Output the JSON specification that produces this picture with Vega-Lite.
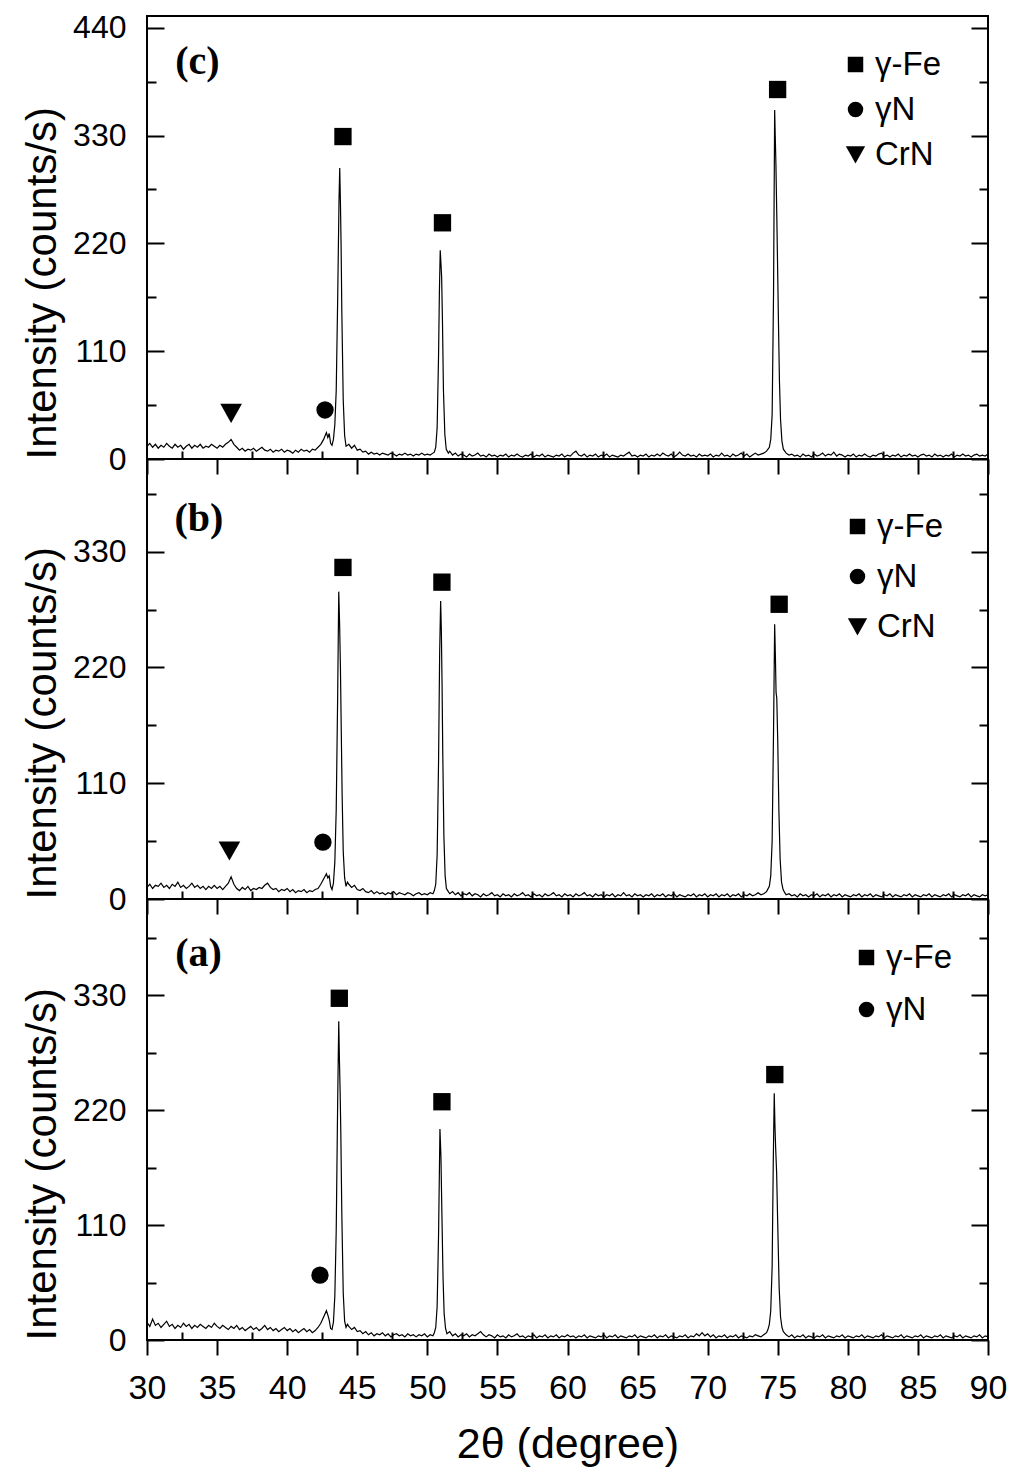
{
"$schema": "https://vega.github.io/schema/vega-lite/v6.json",
"padding": {"left": 20, "top": 10, "right": 10, "bottom": 5},
"spacing": 0,
"bounds": "flush",
"config": {
  "view": {"stroke": "black", "strokeWidth": 2},
  "font": "Liberation Sans",
  "axis": {"domain": false, "grid": false, "tickColor": "black", "tickWidth": 2, "labelColor": "black", "titleColor": "black", "labelFont": "Liberation Sans", "titleFont": "Liberation Sans", "titleFontWeight": "normal"}
},
"resolve": {"scale": {"x": "independent", "y": "independent", "shape": "independent"}, "legend": {"shape": "independent"}},
"datasets": {
"c": [{"x":30.0,"y":13},{"x":30.2,"y":16},{"x":30.4,"y":12},{"x":30.6,"y":15},{"x":30.8,"y":11},{"x":31.0,"y":14},{"x":31.2,"y":12},{"x":31.4,"y":16},{"x":31.6,"y":13},{"x":31.8,"y":11},{"x":32.0,"y":15},{"x":32.2,"y":12},{"x":32.4,"y":14},{"x":32.6,"y":10},{"x":32.8,"y":13},{"x":33.0,"y":15},{"x":33.2,"y":11},{"x":33.4,"y":14},{"x":33.6,"y":12},{"x":33.8,"y":15},{"x":34.0,"y":11},{"x":34.2,"y":13},{"x":34.4,"y":12},{"x":34.6,"y":15},{"x":34.8,"y":13},{"x":35.0,"y":11},{"x":35.2,"y":14},{"x":35.4,"y":12},{"x":35.6,"y":15},{"x":35.8,"y":17},{"x":36.0,"y":20},{"x":36.2,"y":15},{"x":36.4,"y":12},{"x":36.6,"y":9},{"x":36.8,"y":11},{"x":37.0,"y":8},{"x":37.2,"y":10},{"x":37.4,"y":9},{"x":37.6,"y":11},{"x":37.8,"y":8},{"x":38.0,"y":10},{"x":38.2,"y":12},{"x":38.4,"y":9},{"x":38.6,"y":8},{"x":38.8,"y":10},{"x":39.0,"y":7},{"x":39.2,"y":9},{"x":39.4,"y":8},{"x":39.6,"y":10},{"x":39.8,"y":7},{"x":40.0,"y":9},{"x":40.2,"y":8},{"x":40.4,"y":6},{"x":40.6,"y":9},{"x":40.8,"y":7},{"x":41.0,"y":10},{"x":41.2,"y":8},{"x":41.4,"y":9},{"x":41.6,"y":7},{"x":41.8,"y":10},{"x":42.0,"y":9},{"x":42.2,"y":12},{"x":42.4,"y":15},{"x":42.6,"y":20},{"x":42.8,"y":27},{"x":42.9,"y":22},{"x":43.0,"y":26},{"x":43.1,"y":16},{"x":43.2,"y":14},{"x":43.3,"y":20},{"x":43.4,"y":35},{"x":43.5,"y":70},{"x":43.6,"y":160},{"x":43.7,"y":265},{"x":43.75,"y":297},{"x":43.8,"y":262},{"x":43.85,"y":215},{"x":43.9,"y":150},{"x":44.0,"y":60},{"x":44.1,"y":24},{"x":44.2,"y":13},{"x":44.4,"y":15},{"x":44.6,"y":11},{"x":44.8,"y":14},{"x":45.0,"y":9},{"x":45.2,"y":10},{"x":45.4,"y":7},{"x":45.6,"y":8},{"x":45.8,"y":5},{"x":46.0,"y":7},{"x":46.2,"y":5},{"x":46.4,"y":6},{"x":46.6,"y":4},{"x":46.8,"y":6},{"x":47.0,"y":5},{"x":47.2,"y":4},{"x":47.4,"y":6},{"x":47.6,"y":5},{"x":47.8,"y":3},{"x":48.0,"y":5},{"x":48.2,"y":4},{"x":48.4,"y":6},{"x":48.6,"y":4},{"x":48.8,"y":5},{"x":49.0,"y":3},{"x":49.2,"y":5},{"x":49.4,"y":4},{"x":49.6,"y":6},{"x":49.8,"y":4},{"x":50.0,"y":5},{"x":50.2,"y":4},{"x":50.4,"y":6},{"x":50.5,"y":7},{"x":50.6,"y":12},{"x":50.7,"y":32},{"x":50.8,"y":105},{"x":50.86,"y":170},{"x":50.92,"y":213},{"x":50.97,"y":200},{"x":51.02,"y":186},{"x":51.08,"y":140},{"x":51.15,"y":70},{"x":51.25,"y":25},{"x":51.35,"y":10},{"x":51.5,"y":6},{"x":51.6,"y":8},{"x":51.8,"y":4},{"x":52.0,"y":6},{"x":52.2,"y":3},{"x":52.4,"y":5},{"x":52.6,"y":4},{"x":52.8,"y":2},{"x":53.0,"y":5},{"x":53.2,"y":3},{"x":53.4,"y":4},{"x":53.6,"y":6},{"x":53.8,"y":3},{"x":54.0,"y":4},{"x":54.2,"y":2},{"x":54.4,"y":5},{"x":54.6,"y":3},{"x":54.8,"y":4},{"x":55.0,"y":2},{"x":55.2,"y":4},{"x":55.4,"y":3},{"x":55.6,"y":5},{"x":55.8,"y":2},{"x":56.0,"y":4},{"x":56.2,"y":3},{"x":56.4,"y":5},{"x":56.6,"y":3},{"x":56.8,"y":2},{"x":57.0,"y":4},{"x":57.2,"y":3},{"x":57.4,"y":5},{"x":57.6,"y":2},{"x":57.8,"y":4},{"x":58.0,"y":3},{"x":58.2,"y":5},{"x":58.4,"y":2},{"x":58.6,"y":4},{"x":58.8,"y":3},{"x":59.0,"y":2},{"x":59.2,"y":4},{"x":59.4,"y":3},{"x":59.6,"y":5},{"x":59.8,"y":2},{"x":60.0,"y":4},{"x":60.2,"y":3},{"x":60.4,"y":6},{"x":60.6,"y":8},{"x":60.8,"y":4},{"x":61.0,"y":3},{"x":61.2,"y":5},{"x":61.4,"y":2},{"x":61.6,"y":4},{"x":61.8,"y":3},{"x":62.0,"y":5},{"x":62.2,"y":2},{"x":62.4,"y":4},{"x":62.6,"y":3},{"x":62.8,"y":5},{"x":63.0,"y":2},{"x":63.2,"y":4},{"x":63.4,"y":3},{"x":63.6,"y":2},{"x":63.8,"y":4},{"x":64.0,"y":3},{"x":64.2,"y":5},{"x":64.4,"y":7},{"x":64.6,"y":3},{"x":64.8,"y":4},{"x":65.0,"y":2},{"x":65.2,"y":4},{"x":65.4,"y":3},{"x":65.6,"y":5},{"x":65.8,"y":2},{"x":66.0,"y":4},{"x":66.2,"y":3},{"x":66.4,"y":5},{"x":66.6,"y":3},{"x":66.8,"y":6},{"x":67.0,"y":4},{"x":67.2,"y":3},{"x":67.4,"y":5},{"x":67.6,"y":2},{"x":67.8,"y":4},{"x":68.0,"y":7},{"x":68.2,"y":4},{"x":68.4,"y":3},{"x":68.6,"y":5},{"x":68.8,"y":3},{"x":69.0,"y":4},{"x":69.2,"y":2},{"x":69.4,"y":5},{"x":69.6,"y":3},{"x":69.8,"y":4},{"x":70.0,"y":3},{"x":70.2,"y":5},{"x":70.4,"y":2},{"x":70.6,"y":4},{"x":70.8,"y":3},{"x":71.0,"y":6},{"x":71.2,"y":3},{"x":71.4,"y":4},{"x":71.6,"y":2},{"x":71.8,"y":5},{"x":72.0,"y":3},{"x":72.2,"y":4},{"x":72.4,"y":6},{"x":72.6,"y":3},{"x":72.8,"y":5},{"x":73.0,"y":2},{"x":73.2,"y":4},{"x":73.4,"y":6},{"x":73.6,"y":4},{"x":73.8,"y":5},{"x":74.0,"y":6},{"x":74.2,"y":8},{"x":74.4,"y":12},{"x":74.5,"y":20},{"x":74.6,"y":45},{"x":74.7,"y":170},{"x":74.78,"y":356},{"x":74.82,"y":330},{"x":74.87,"y":300},{"x":74.93,"y":250},{"x":74.98,"y":205},{"x":75.05,"y":140},{"x":75.12,"y":80},{"x":75.2,"y":40},{"x":75.3,"y":18},{"x":75.4,"y":10},{"x":75.5,"y":8},{"x":75.6,"y":6},{"x":75.8,"y":4},{"x":76.0,"y":5},{"x":76.2,"y":3},{"x":76.4,"y":4},{"x":76.6,"y":2},{"x":76.8,"y":5},{"x":77.0,"y":3},{"x":77.2,"y":4},{"x":77.4,"y":2},{"x":77.6,"y":5},{"x":77.8,"y":3},{"x":78.0,"y":4},{"x":78.2,"y":6},{"x":78.4,"y":3},{"x":78.6,"y":5},{"x":78.8,"y":4},{"x":79.0,"y":7},{"x":79.2,"y":3},{"x":79.4,"y":5},{"x":79.6,"y":4},{"x":79.8,"y":2},{"x":80.0,"y":4},{"x":80.2,"y":3},{"x":80.4,"y":5},{"x":80.6,"y":2},{"x":80.8,"y":4},{"x":81.0,"y":3},{"x":81.2,"y":5},{"x":81.4,"y":3},{"x":81.6,"y":2},{"x":81.8,"y":4},{"x":82.0,"y":3},{"x":82.2,"y":5},{"x":82.4,"y":6},{"x":82.6,"y":3},{"x":82.8,"y":4},{"x":83.0,"y":2},{"x":83.2,"y":4},{"x":83.4,"y":3},{"x":83.6,"y":5},{"x":83.8,"y":2},{"x":84.0,"y":4},{"x":84.2,"y":3},{"x":84.4,"y":5},{"x":84.6,"y":3},{"x":84.8,"y":4},{"x":85.0,"y":2},{"x":85.2,"y":4},{"x":85.4,"y":5},{"x":85.6,"y":3},{"x":85.8,"y":4},{"x":86.0,"y":2},{"x":86.2,"y":5},{"x":86.4,"y":3},{"x":86.6,"y":4},{"x":86.8,"y":2},{"x":87.0,"y":4},{"x":87.2,"y":3},{"x":87.4,"y":5},{"x":87.6,"y":2},{"x":87.8,"y":4},{"x":88.0,"y":3},{"x":88.2,"y":5},{"x":88.4,"y":3},{"x":88.6,"y":4},{"x":88.8,"y":2},{"x":89.0,"y":4},{"x":89.2,"y":5},{"x":89.4,"y":3},{"x":89.6,"y":4},{"x":89.8,"y":3},{"x":90.0,"y":5}],
"b": [{"x":30.0,"y":11},{"x":30.2,"y":14},{"x":30.4,"y":10},{"x":30.6,"y":13},{"x":30.8,"y":12},{"x":31.0,"y":15},{"x":31.2,"y":11},{"x":31.4,"y":13},{"x":31.6,"y":10},{"x":31.8,"y":14},{"x":32.0,"y":12},{"x":32.2,"y":16},{"x":32.4,"y":11},{"x":32.6,"y":13},{"x":32.8,"y":10},{"x":33.0,"y":12},{"x":33.2,"y":15},{"x":33.4,"y":11},{"x":33.6,"y":13},{"x":33.8,"y":10},{"x":34.0,"y":12},{"x":34.2,"y":9},{"x":34.4,"y":12},{"x":34.6,"y":10},{"x":34.8,"y":13},{"x":35.0,"y":10},{"x":35.2,"y":12},{"x":35.4,"y":9},{"x":35.6,"y":12},{"x":35.8,"y":15},{"x":36.0,"y":21},{"x":36.2,"y":14},{"x":36.4,"y":10},{"x":36.6,"y":8},{"x":36.8,"y":11},{"x":37.0,"y":9},{"x":37.2,"y":12},{"x":37.4,"y":8},{"x":37.6,"y":10},{"x":37.8,"y":9},{"x":38.0,"y":11},{"x":38.2,"y":10},{"x":38.4,"y":13},{"x":38.6,"y":15},{"x":38.8,"y":11},{"x":39.0,"y":9},{"x":39.2,"y":10},{"x":39.4,"y":7},{"x":39.6,"y":9},{"x":39.8,"y":8},{"x":40.0,"y":10},{"x":40.2,"y":7},{"x":40.4,"y":9},{"x":40.6,"y":6},{"x":40.8,"y":8},{"x":41.0,"y":7},{"x":41.2,"y":9},{"x":41.4,"y":6},{"x":41.6,"y":8},{"x":41.8,"y":7},{"x":42.0,"y":9},{"x":42.2,"y":10},{"x":42.4,"y":14},{"x":42.6,"y":19},{"x":42.8,"y":24},{"x":42.9,"y":20},{"x":43.0,"y":22},{"x":43.1,"y":12},{"x":43.2,"y":9},{"x":43.3,"y":15},{"x":43.4,"y":35},{"x":43.5,"y":85},{"x":43.6,"y":190},{"x":43.68,"y":292},{"x":43.74,"y":262},{"x":43.8,"y":220},{"x":43.86,"y":160},{"x":43.92,"y":100},{"x":44.0,"y":45},{"x":44.1,"y":20},{"x":44.2,"y":12},{"x":44.3,"y":16},{"x":44.4,"y":14},{"x":44.6,"y":11},{"x":44.8,"y":13},{"x":45.0,"y":9},{"x":45.2,"y":8},{"x":45.4,"y":10},{"x":45.6,"y":7},{"x":45.8,"y":6},{"x":46.0,"y":8},{"x":46.2,"y":5},{"x":46.4,"y":7},{"x":46.6,"y":5},{"x":46.8,"y":6},{"x":47.0,"y":4},{"x":47.2,"y":6},{"x":47.4,"y":5},{"x":47.6,"y":7},{"x":47.8,"y":4},{"x":48.0,"y":6},{"x":48.2,"y":5},{"x":48.4,"y":4},{"x":48.6,"y":6},{"x":48.8,"y":5},{"x":49.0,"y":3},{"x":49.2,"y":5},{"x":49.4,"y":6},{"x":49.6,"y":4},{"x":49.8,"y":5},{"x":50.0,"y":4},{"x":50.2,"y":6},{"x":50.4,"y":5},{"x":50.5,"y":8},{"x":50.6,"y":14},{"x":50.7,"y":42},{"x":50.8,"y":130},{"x":50.88,"y":235},{"x":50.95,"y":283},{"x":51.0,"y":255},{"x":51.05,"y":205},{"x":51.1,"y":140},{"x":51.18,"y":60},{"x":51.27,"y":22},{"x":51.36,"y":10},{"x":51.5,"y":7},{"x":51.6,"y":5},{"x":51.8,"y":7},{"x":52.0,"y":4},{"x":52.2,"y":6},{"x":52.4,"y":3},{"x":52.6,"y":5},{"x":52.8,"y":4},{"x":53.0,"y":6},{"x":53.2,"y":3},{"x":53.4,"y":5},{"x":53.6,"y":4},{"x":53.8,"y":2},{"x":54.0,"y":5},{"x":54.2,"y":3},{"x":54.4,"y":4},{"x":54.6,"y":6},{"x":54.8,"y":3},{"x":55.0,"y":4},{"x":55.2,"y":2},{"x":55.4,"y":5},{"x":55.6,"y":3},{"x":55.8,"y":4},{"x":56.0,"y":2},{"x":56.2,"y":5},{"x":56.4,"y":3},{"x":56.6,"y":4},{"x":56.8,"y":6},{"x":57.0,"y":3},{"x":57.2,"y":4},{"x":57.4,"y":2},{"x":57.6,"y":5},{"x":57.8,"y":3},{"x":58.0,"y":4},{"x":58.2,"y":2},{"x":58.4,"y":5},{"x":58.6,"y":3},{"x":58.8,"y":4},{"x":59.0,"y":6},{"x":59.2,"y":3},{"x":59.4,"y":4},{"x":59.6,"y":2},{"x":59.8,"y":5},{"x":60.0,"y":3},{"x":60.2,"y":4},{"x":60.4,"y":2},{"x":60.6,"y":5},{"x":60.8,"y":3},{"x":61.0,"y":4},{"x":61.2,"y":6},{"x":61.4,"y":3},{"x":61.6,"y":4},{"x":61.8,"y":2},{"x":62.0,"y":5},{"x":62.2,"y":3},{"x":62.4,"y":4},{"x":62.6,"y":2},{"x":62.8,"y":4},{"x":63.0,"y":3},{"x":63.2,"y":5},{"x":63.4,"y":2},{"x":63.6,"y":4},{"x":63.8,"y":3},{"x":64.0,"y":6},{"x":64.2,"y":3},{"x":64.4,"y":4},{"x":64.6,"y":2},{"x":64.8,"y":5},{"x":65.0,"y":3},{"x":65.2,"y":4},{"x":65.4,"y":2},{"x":65.6,"y":4},{"x":65.8,"y":3},{"x":66.0,"y":5},{"x":66.2,"y":2},{"x":66.4,"y":4},{"x":66.6,"y":3},{"x":66.8,"y":5},{"x":67.0,"y":2},{"x":67.2,"y":4},{"x":67.4,"y":3},{"x":67.6,"y":5},{"x":67.8,"y":2},{"x":68.0,"y":4},{"x":68.2,"y":3},{"x":68.4,"y":2},{"x":68.6,"y":4},{"x":68.8,"y":3},{"x":69.0,"y":5},{"x":69.2,"y":2},{"x":69.4,"y":4},{"x":69.6,"y":3},{"x":69.8,"y":5},{"x":70.0,"y":2},{"x":70.2,"y":4},{"x":70.4,"y":3},{"x":70.6,"y":5},{"x":70.8,"y":2},{"x":71.0,"y":4},{"x":71.2,"y":3},{"x":71.4,"y":5},{"x":71.6,"y":2},{"x":71.8,"y":4},{"x":72.0,"y":3},{"x":72.2,"y":5},{"x":72.4,"y":2},{"x":72.6,"y":4},{"x":72.8,"y":3},{"x":73.0,"y":5},{"x":73.2,"y":3},{"x":73.4,"y":4},{"x":73.6,"y":6},{"x":73.8,"y":4},{"x":74.0,"y":5},{"x":74.2,"y":7},{"x":74.4,"y":12},{"x":74.5,"y":22},{"x":74.6,"y":55},{"x":74.7,"y":160},{"x":74.78,"y":261},{"x":74.83,"y":232},{"x":74.88,"y":196},{"x":74.93,"y":191},{"x":75.0,"y":150},{"x":75.08,"y":85},{"x":75.17,"y":38},{"x":75.27,"y":16},{"x":75.38,"y":9},{"x":75.5,"y":6},{"x":75.6,"y":4},{"x":75.8,"y":5},{"x":76.0,"y":3},{"x":76.2,"y":4},{"x":76.4,"y":2},{"x":76.6,"y":5},{"x":76.8,"y":3},{"x":77.0,"y":4},{"x":77.2,"y":2},{"x":77.4,"y":4},{"x":77.6,"y":3},{"x":77.8,"y":5},{"x":78.0,"y":2},{"x":78.2,"y":4},{"x":78.4,"y":3},{"x":78.6,"y":5},{"x":78.8,"y":2},{"x":79.0,"y":4},{"x":79.2,"y":3},{"x":79.4,"y":5},{"x":79.6,"y":2},{"x":79.8,"y":4},{"x":80.0,"y":3},{"x":80.2,"y":2},{"x":80.4,"y":4},{"x":80.6,"y":3},{"x":80.8,"y":5},{"x":81.0,"y":2},{"x":81.2,"y":4},{"x":81.4,"y":3},{"x":81.6,"y":5},{"x":81.8,"y":2},{"x":82.0,"y":4},{"x":82.2,"y":3},{"x":82.4,"y":2},{"x":82.6,"y":4},{"x":82.8,"y":3},{"x":83.0,"y":5},{"x":83.2,"y":2},{"x":83.4,"y":4},{"x":83.6,"y":3},{"x":83.8,"y":2},{"x":84.0,"y":4},{"x":84.2,"y":3},{"x":84.4,"y":5},{"x":84.6,"y":2},{"x":84.8,"y":4},{"x":85.0,"y":3},{"x":85.2,"y":2},{"x":85.4,"y":4},{"x":85.6,"y":3},{"x":85.8,"y":5},{"x":86.0,"y":2},{"x":86.2,"y":4},{"x":86.4,"y":3},{"x":86.6,"y":2},{"x":86.8,"y":4},{"x":87.0,"y":3},{"x":87.2,"y":5},{"x":87.4,"y":2},{"x":87.6,"y":4},{"x":87.8,"y":3},{"x":88.0,"y":2},{"x":88.2,"y":4},{"x":88.4,"y":3},{"x":88.6,"y":5},{"x":88.8,"y":2},{"x":89.0,"y":4},{"x":89.2,"y":3},{"x":89.4,"y":2},{"x":89.6,"y":4},{"x":89.8,"y":3},{"x":90.0,"y":4}],
"a": [{"x":30.0,"y":17},{"x":30.2,"y":13},{"x":30.4,"y":20},{"x":30.6,"y":14},{"x":30.8,"y":16},{"x":31.0,"y":12},{"x":31.2,"y":15},{"x":31.4,"y":18},{"x":31.6,"y":13},{"x":31.8,"y":15},{"x":32.0,"y":11},{"x":32.2,"y":14},{"x":32.4,"y":12},{"x":32.6,"y":16},{"x":32.8,"y":13},{"x":33.0,"y":15},{"x":33.2,"y":11},{"x":33.4,"y":14},{"x":33.6,"y":12},{"x":33.8,"y":15},{"x":34.0,"y":13},{"x":34.2,"y":11},{"x":34.4,"y":14},{"x":34.6,"y":12},{"x":34.8,"y":16},{"x":35.0,"y":13},{"x":35.2,"y":11},{"x":35.4,"y":14},{"x":35.6,"y":12},{"x":35.8,"y":10},{"x":36.0,"y":13},{"x":36.2,"y":11},{"x":36.4,"y":14},{"x":36.6,"y":10},{"x":36.8,"y":12},{"x":37.0,"y":9},{"x":37.2,"y":11},{"x":37.4,"y":13},{"x":37.6,"y":10},{"x":37.8,"y":12},{"x":38.0,"y":9},{"x":38.2,"y":11},{"x":38.4,"y":14},{"x":38.6,"y":10},{"x":38.8,"y":12},{"x":39.0,"y":9},{"x":39.2,"y":11},{"x":39.4,"y":8},{"x":39.6,"y":10},{"x":39.8,"y":12},{"x":40.0,"y":9},{"x":40.2,"y":11},{"x":40.4,"y":8},{"x":40.6,"y":10},{"x":40.8,"y":7},{"x":41.0,"y":9},{"x":41.2,"y":11},{"x":41.4,"y":8},{"x":41.6,"y":10},{"x":41.8,"y":7},{"x":42.0,"y":9},{"x":42.2,"y":12},{"x":42.4,"y":16},{"x":42.6,"y":22},{"x":42.8,"y":28},{"x":42.9,"y":24},{"x":43.0,"y":19},{"x":43.1,"y":11},{"x":43.2,"y":10},{"x":43.3,"y":17},{"x":43.4,"y":42},{"x":43.5,"y":105},{"x":43.6,"y":225},{"x":43.68,"y":305},{"x":43.73,"y":267},{"x":43.78,"y":237},{"x":43.83,"y":196},{"x":43.9,"y":120},{"x":44.0,"y":45},{"x":44.1,"y":18},{"x":44.2,"y":12},{"x":44.3,"y":15},{"x":44.4,"y":13},{"x":44.6,"y":10},{"x":44.8,"y":12},{"x":45.0,"y":8},{"x":45.2,"y":9},{"x":45.4,"y":6},{"x":45.6,"y":8},{"x":45.8,"y":5},{"x":46.0,"y":7},{"x":46.2,"y":4},{"x":46.4,"y":6},{"x":46.6,"y":5},{"x":46.8,"y":7},{"x":47.0,"y":4},{"x":47.2,"y":6},{"x":47.4,"y":3},{"x":47.6,"y":5},{"x":47.8,"y":6},{"x":48.0,"y":4},{"x":48.2,"y":5},{"x":48.4,"y":3},{"x":48.6,"y":6},{"x":48.8,"y":4},{"x":49.0,"y":5},{"x":49.2,"y":3},{"x":49.4,"y":5},{"x":49.6,"y":4},{"x":49.8,"y":6},{"x":50.0,"y":3},{"x":50.2,"y":5},{"x":50.4,"y":4},{"x":50.5,"y":7},{"x":50.6,"y":12},{"x":50.7,"y":32},{"x":50.8,"y":100},{"x":50.9,"y":202},{"x":50.97,"y":176},{"x":51.04,"y":120},{"x":51.12,"y":60},{"x":51.2,"y":25},{"x":51.3,"y":11},{"x":51.4,"y":6},{"x":51.6,"y":8},{"x":51.8,"y":4},{"x":52.0,"y":6},{"x":52.2,"y":3},{"x":52.4,"y":5},{"x":52.6,"y":4},{"x":52.8,"y":6},{"x":53.0,"y":3},{"x":53.2,"y":5},{"x":53.4,"y":4},{"x":53.6,"y":6},{"x":53.8,"y":8},{"x":54.0,"y":5},{"x":54.2,"y":3},{"x":54.4,"y":5},{"x":54.6,"y":4},{"x":54.8,"y":2},{"x":55.0,"y":5},{"x":55.2,"y":3},{"x":55.4,"y":4},{"x":55.6,"y":2},{"x":55.8,"y":5},{"x":56.0,"y":3},{"x":56.2,"y":4},{"x":56.4,"y":6},{"x":56.6,"y":3},{"x":56.8,"y":4},{"x":57.0,"y":2},{"x":57.2,"y":4},{"x":57.4,"y":3},{"x":57.6,"y":5},{"x":57.8,"y":2},{"x":58.0,"y":4},{"x":58.2,"y":3},{"x":58.4,"y":5},{"x":58.6,"y":2},{"x":58.8,"y":4},{"x":59.0,"y":3},{"x":59.2,"y":5},{"x":59.4,"y":2},{"x":59.6,"y":4},{"x":59.8,"y":3},{"x":60.0,"y":5},{"x":60.2,"y":3},{"x":60.4,"y":4},{"x":60.6,"y":2},{"x":60.8,"y":4},{"x":61.0,"y":3},{"x":61.2,"y":5},{"x":61.4,"y":2},{"x":61.6,"y":4},{"x":61.8,"y":3},{"x":62.0,"y":2},{"x":62.2,"y":4},{"x":62.4,"y":3},{"x":62.6,"y":5},{"x":62.8,"y":2},{"x":63.0,"y":4},{"x":63.2,"y":3},{"x":63.4,"y":5},{"x":63.6,"y":2},{"x":63.8,"y":4},{"x":64.0,"y":3},{"x":64.2,"y":2},{"x":64.4,"y":4},{"x":64.6,"y":3},{"x":64.8,"y":5},{"x":65.0,"y":2},{"x":65.2,"y":4},{"x":65.4,"y":3},{"x":65.6,"y":2},{"x":65.8,"y":4},{"x":66.0,"y":3},{"x":66.2,"y":5},{"x":66.4,"y":2},{"x":66.6,"y":4},{"x":66.8,"y":3},{"x":67.0,"y":5},{"x":67.2,"y":2},{"x":67.4,"y":4},{"x":67.6,"y":3},{"x":67.8,"y":2},{"x":68.0,"y":4},{"x":68.2,"y":3},{"x":68.4,"y":5},{"x":68.6,"y":2},{"x":68.8,"y":4},{"x":69.0,"y":3},{"x":69.2,"y":6},{"x":69.4,"y":4},{"x":69.6,"y":7},{"x":69.8,"y":4},{"x":70.0,"y":6},{"x":70.2,"y":3},{"x":70.4,"y":5},{"x":70.6,"y":2},{"x":70.8,"y":4},{"x":71.0,"y":3},{"x":71.2,"y":5},{"x":71.4,"y":2},{"x":71.6,"y":4},{"x":71.8,"y":3},{"x":72.0,"y":5},{"x":72.2,"y":2},{"x":72.4,"y":4},{"x":72.6,"y":3},{"x":72.8,"y":2},{"x":73.0,"y":4},{"x":73.2,"y":3},{"x":73.4,"y":5},{"x":73.6,"y":4},{"x":73.8,"y":3},{"x":74.0,"y":5},{"x":74.2,"y":7},{"x":74.3,"y":10},{"x":74.4,"y":15},{"x":74.5,"y":28},{"x":74.6,"y":70},{"x":74.68,"y":170},{"x":74.75,"y":236},{"x":74.8,"y":205},{"x":74.85,"y":184},{"x":74.92,"y":160},{"x":75.0,"y":110},{"x":75.1,"y":50},{"x":75.2,"y":22},{"x":75.3,"y":12},{"x":75.4,"y":8},{"x":75.6,"y":5},{"x":75.8,"y":3},{"x":76.0,"y":5},{"x":76.2,"y":2},{"x":76.4,"y":4},{"x":76.6,"y":3},{"x":76.8,"y":5},{"x":77.0,"y":2},{"x":77.2,"y":4},{"x":77.4,"y":3},{"x":77.6,"y":2},{"x":77.8,"y":4},{"x":78.0,"y":3},{"x":78.2,"y":5},{"x":78.4,"y":2},{"x":78.6,"y":4},{"x":78.8,"y":3},{"x":79.0,"y":2},{"x":79.2,"y":4},{"x":79.4,"y":3},{"x":79.6,"y":5},{"x":79.8,"y":2},{"x":80.0,"y":4},{"x":80.2,"y":3},{"x":80.4,"y":2},{"x":80.6,"y":4},{"x":80.8,"y":3},{"x":81.0,"y":5},{"x":81.2,"y":2},{"x":81.4,"y":4},{"x":81.6,"y":3},{"x":81.8,"y":2},{"x":82.0,"y":4},{"x":82.2,"y":3},{"x":82.4,"y":5},{"x":82.6,"y":2},{"x":82.8,"y":4},{"x":83.0,"y":3},{"x":83.2,"y":2},{"x":83.4,"y":4},{"x":83.6,"y":3},{"x":83.8,"y":5},{"x":84.0,"y":2},{"x":84.2,"y":4},{"x":84.4,"y":3},{"x":84.6,"y":2},{"x":84.8,"y":4},{"x":85.0,"y":3},{"x":85.2,"y":5},{"x":85.4,"y":2},{"x":85.6,"y":4},{"x":85.8,"y":3},{"x":86.0,"y":2},{"x":86.2,"y":4},{"x":86.4,"y":3},{"x":86.6,"y":5},{"x":86.8,"y":2},{"x":87.0,"y":4},{"x":87.2,"y":3},{"x":87.4,"y":2},{"x":87.6,"y":4},{"x":87.8,"y":3},{"x":88.0,"y":5},{"x":88.2,"y":2},{"x":88.4,"y":4},{"x":88.6,"y":3},{"x":88.8,"y":2},{"x":89.0,"y":4},{"x":89.2,"y":3},{"x":89.4,"y":5},{"x":89.6,"y":2},{"x":89.8,"y":4},{"x":90.0,"y":3}],
"mc": [{"x":43.98,"y":329,"phase":"γ-Fe"},{"x":51.08,"y":241,"phase":"γ-Fe"},{"x":74.99,"y":377,"phase":"γ-Fe"},{"x":42.7,"y":50,"phase":"γN"},{"x":36.0,"y":47,"phase":"CrN"}],
"mb": [{"x":43.98,"y":315,"phase":"γ-Fe"},{"x":51.04,"y":301,"phase":"γ-Fe"},{"x":75.1,"y":280,"phase":"γ-Fe"},{"x":42.55,"y":54,"phase":"γN"},{"x":35.88,"y":46,"phase":"CrN"}],
"ma": [{"x":43.72,"y":327,"phase":"γ-Fe"},{"x":51.04,"y":228,"phase":"γ-Fe"},{"x":74.79,"y":254,"phase":"γ-Fe"},{"x":42.34,"y":62,"phase":"γN"}]
},
"vconcat": [
{
  "width": 841, "height": 443,
  "resolve": {"axis": {"x": "independent", "y": "independent"}},
  "layer": [
    {"data": {"name": "c"}, "mark": {"type": "line", "color": "black", "strokeWidth": 1.2},
     "encoding": {
       "x": {"field": "x", "type": "quantitative", "scale": {"domain": [30, 90], "nice": false, "zero": false},
             "axis": {"orient": "bottom", "values": [32.5,37.5,42.5,47.5,52.5,57.5,62.5,67.5,72.5,77.5,82.5,87.5], "tickSize": -8, "labels": false, "title": null}},
       "y": {"field": "y", "type": "quantitative", "scale": {"domain": [0, 452], "nice": false},
             "axis": {"orient": "left", "values": [0,110,220,330,440], "ticks": false, "labelPadding": 21, "labelFontSize": 32, "title": "Intensity (counts/s)", "titleFontSize": 42, "titleAnchor": "start", "titleAlign": "left", "titlePadding": 8}}}},
    {"data": {"name": "mc"}, "mark": {"type": "point", "filled": true, "opacity": 1, "color": "black", "size": 300},
     "encoding": {
       "x": {"field": "x", "type": "quantitative", "axis": null},
       "y": {"field": "y", "type": "quantitative", "axis": {"orient": "left", "values": [0,110,220,330,440], "tickSize": -17, "labels": false, "title": null}},
       "shape": {"field": "phase", "type": "nominal", "scale": {"domain": ["γ-Fe","γN","CrN"], "range": ["square","circle","M-1.25,-1.05L1.25,-1.05L0,1.15Z"]},
                 "legend": {"title": null, "orient": "none", "legendX": 692, "legendY": 32, "labelFontSize": 33, "labelFont": "Liberation Sans", "labelColor": "black", "symbolSize": 240, "symbolFillColor": "black", "symbolStrokeWidth": 0, "rowPadding": 11, "labelOffset": 3}}}},
    {"data": {"name": "mc"}, "mark": {"type": "point", "opacity": 0},
     "encoding": {
       "x": {"field": "x", "type": "quantitative", "axis": null},
       "y": {"field": "y", "type": "quantitative", "axis": {"orient": "left", "values": [55,165,275,385], "tickSize": -9, "labels": false, "title": null}}}},
    {"data": {"name": "mc"}, "mark": {"type": "point", "opacity": 0},
     "encoding": {
       "x": {"field": "x", "type": "quantitative", "axis": null},
       "y": {"field": "y", "type": "quantitative", "axis": {"orient": "right", "values": [0,110,220,330,440], "tickSize": -17, "labels": false, "title": null}}}},
    {"data": {"name": "mc"}, "mark": {"type": "point", "opacity": 0},
     "encoding": {
       "x": {"field": "x", "type": "quantitative", "axis": null},
       "y": {"field": "y", "type": "quantitative", "axis": {"orient": "right", "values": [55,165,275,385], "tickSize": -9, "labels": false, "title": null}}}},
    {"data": {"values": [{"label": "(c)", "x": 33.6, "y": 405}]}, "mark": {"type": "text", "font": "Liberation Serif", "fontWeight": "bold", "fontSize": 40, "color": "black", "align": "center", "baseline": "middle"},
     "encoding": {
       "x": {"field": "x", "type": "quantitative", "axis": null},
       "y": {"field": "y", "type": "quantitative", "axis": null},
       "text": {"field": "label"}}}
  ]
},
{
  "width": 841, "height": 440,
  "resolve": {"axis": {"x": "independent", "y": "independent"}},
  "layer": [
    {"data": {"name": "b"}, "mark": {"type": "line", "color": "black", "strokeWidth": 1.2},
     "encoding": {
       "x": {"field": "x", "type": "quantitative", "scale": {"domain": [30, 90], "nice": false, "zero": false},
             "axis": {"orient": "bottom", "values": [32.5,37.5,42.5,47.5,52.5,57.5,62.5,67.5,72.5,77.5,82.5,87.5], "tickSize": -8, "labels": false, "title": null}},
       "y": {"field": "y", "type": "quantitative", "scale": {"domain": [0, 418], "nice": false},
             "axis": {"orient": "left", "values": [0,110,220,330], "ticks": false, "labelPadding": 21, "labelFontSize": 32, "title": "Intensity (counts/s)", "titleFontSize": 42, "titleAnchor": "start", "titleAlign": "left", "titlePadding": 8}}}},
    {"data": {"name": "mb"}, "mark": {"type": "point", "filled": true, "opacity": 1, "color": "black", "size": 300},
     "encoding": {
       "x": {"field": "x", "type": "quantitative", "axis": null},
       "y": {"field": "y", "type": "quantitative", "axis": {"orient": "left", "values": [0,110,220,330], "tickSize": -17, "labels": false, "title": null}},
       "shape": {"field": "phase", "type": "nominal", "scale": {"domain": ["γ-Fe","γN","CrN"], "range": ["square","circle","M-1.25,-1.05L1.25,-1.05L0,1.15Z"]},
                 "legend": {"title": null, "orient": "none", "legendX": 694, "legendY": 51, "labelFontSize": 33, "labelFont": "Liberation Sans", "labelColor": "black", "symbolSize": 240, "symbolFillColor": "black", "symbolStrokeWidth": 0, "rowPadding": 16, "labelOffset": 3}}}},
    {"data": {"name": "mb"}, "mark": {"type": "point", "opacity": 0},
     "encoding": {
       "x": {"field": "x", "type": "quantitative", "axis": {"orient": "top", "values": [30,35,40,45,50,55,60,65,70,75,80,85,90], "tickSize": -15, "labels": false, "title": null}},
       "y": {"field": "y", "type": "quantitative", "axis": {"orient": "left", "values": [55,165,275,385], "tickSize": -9, "labels": false, "title": null}}}},
    {"data": {"name": "mb"}, "mark": {"type": "point", "opacity": 0},
     "encoding": {
       "x": {"field": "x", "type": "quantitative", "axis": null},
       "y": {"field": "y", "type": "quantitative", "axis": {"orient": "right", "values": [0,110,220,330], "tickSize": -17, "labels": false, "title": null}}}},
    {"data": {"name": "mb"}, "mark": {"type": "point", "opacity": 0},
     "encoding": {
       "x": {"field": "x", "type": "quantitative", "axis": null},
       "y": {"field": "y", "type": "quantitative", "axis": {"orient": "right", "values": [55,165,275,385], "tickSize": -9, "labels": false, "title": null}}}},
    {"data": {"values": [{"label": "(b)", "x": 33.7, "y": 361}]}, "mark": {"type": "text", "font": "Liberation Serif", "fontWeight": "bold", "fontSize": 40, "color": "black", "align": "center", "baseline": "middle"},
     "encoding": {
       "x": {"field": "x", "type": "quantitative", "axis": null},
       "y": {"field": "y", "type": "quantitative", "axis": null},
       "text": {"field": "label"}}}
  ]
},
{
  "width": 841, "height": 441,
  "resolve": {"axis": {"x": "independent", "y": "independent"}},
  "layer": [
    {"data": {"name": "a"}, "mark": {"type": "line", "color": "black", "strokeWidth": 1.2},
     "encoding": {
       "x": {"field": "x", "type": "quantitative", "scale": {"domain": [30, 90], "nice": false, "zero": false},
             "axis": {"orient": "bottom", "values": [30,35,40,45,50,55,60,65,70,75,80,85,90], "tickSize": 15, "labelFontSize": 34, "labelPadding": 16, "labelFlush": false, "title": "2θ (degree)", "titleFontSize": 43, "titlePadding": 18}},
       "y": {"field": "y", "type": "quantitative", "scale": {"domain": [0, 422], "nice": false},
             "axis": {"orient": "left", "values": [0,110,220,330], "ticks": false, "labelPadding": 21, "labelFontSize": 32, "title": "Intensity (counts/s)", "titleFontSize": 42, "titleAnchor": "start", "titleAlign": "left", "titlePadding": 8}}}},
    {"data": {"name": "ma"}, "mark": {"type": "point", "filled": true, "opacity": 1, "color": "black", "size": 300},
     "encoding": {
       "x": {"field": "x", "type": "quantitative", "axis": {"orient": "bottom", "values": [32.5,37.5,42.5,47.5,52.5,57.5,62.5,67.5,72.5,77.5,82.5,87.5], "tickSize": -8, "labels": false, "title": null}},
       "y": {"field": "y", "type": "quantitative", "axis": {"orient": "left", "values": [0,110,220,330], "tickSize": -17, "labels": false, "title": null}},
       "shape": {"field": "phase", "type": "nominal", "scale": {"domain": ["γ-Fe","γN"], "range": ["square","circle"]},
                 "legend": {"title": null, "orient": "none", "legendX": 703, "legendY": 42, "labelFontSize": 33, "labelFont": "Liberation Sans", "labelColor": "black", "symbolSize": 240, "symbolFillColor": "black", "symbolStrokeWidth": 0, "rowPadding": 18, "labelOffset": 3}}}},
    {"data": {"name": "ma"}, "mark": {"type": "point", "opacity": 0},
     "encoding": {
       "x": {"field": "x", "type": "quantitative", "axis": {"orient": "top", "values": [30,35,40,45,50,55,60,65,70,75,80,85,90], "tickSize": -15, "labels": false, "title": null}},
       "y": {"field": "y", "type": "quantitative", "axis": {"orient": "left", "values": [55,165,275,385], "tickSize": -9, "labels": false, "title": null}}}},
    {"data": {"name": "ma"}, "mark": {"type": "point", "opacity": 0},
     "encoding": {
       "x": {"field": "x", "type": "quantitative", "axis": null},
       "y": {"field": "y", "type": "quantitative", "axis": {"orient": "right", "values": [0,110,220,330], "tickSize": -17, "labels": false, "title": null}}}},
    {"data": {"name": "ma"}, "mark": {"type": "point", "opacity": 0},
     "encoding": {
       "x": {"field": "x", "type": "quantitative", "axis": null},
       "y": {"field": "y", "type": "quantitative", "axis": {"orient": "right", "values": [55,165,275,385], "tickSize": -9, "labels": false, "title": null}}}},
    {"data": {"values": [{"label": "(a)", "x": 33.67, "y": 369}]}, "mark": {"type": "text", "font": "Liberation Serif", "fontWeight": "bold", "fontSize": 40, "color": "black", "align": "center", "baseline": "middle"},
     "encoding": {
       "x": {"field": "x", "type": "quantitative", "axis": null},
       "y": {"field": "y", "type": "quantitative", "axis": null},
       "text": {"field": "label"}}}
  ]
}
]
}
